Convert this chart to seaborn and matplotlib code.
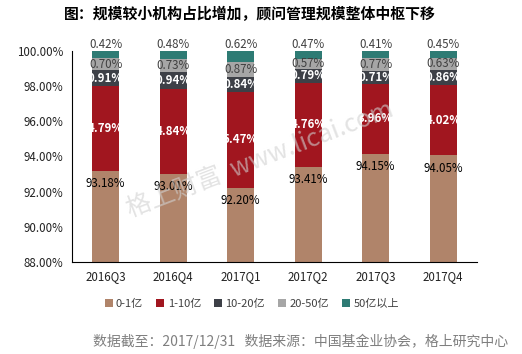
import matplotlib
matplotlib.use("Agg")
import matplotlib.pyplot as plt
from matplotlib.patches import Patch
import seaborn as sns
import pandas as pd
import numpy as np

quarters = ["2016Q3", "2016Q4", "2017Q1", "2017Q2", "2017Q3", "2017Q4"]
s_0_1 = [93.18, 93.01, 92.20, 93.41, 94.15, 94.05]
s_1_10 = [4.79, 4.84, 5.47, 4.76, 3.96, 4.02]
s_10_20 = [0.91, 0.94, 0.84, 0.79, 0.71, 0.86]
s_20_50 = [0.70, 0.73, 0.87, 0.57, 0.77, 0.63]
s_50p = [0.42, 0.48, 0.62, 0.47, 0.41, 0.45]
series_names = ["0-1亿", "1-10亿", "10-20亿", "20-50亿", "50亿以上"]
colors = ["#B0846A", "#A1161F", "#3D4047", "#A6A6A6", "#2E7B74"]
label_colors = ["#000000", "#FFFFFF", "#FFFFFF", "#404040", "#404040"]

sns.set_theme(style="white")
plt.rcParams['font.family'] = ['Noto Sans CJK SC', 'DejaVu Sans']

series = [s_0_1, s_1_10, s_10_20, s_20_50, s_50p]
cum = np.cumsum(np.array(series), axis=0)

fig = plt.figure(figsize=(5.22, 3.54), dpi=100)
ax = fig.add_axes([72/522, 1-262/354, (477-72)/522, (262-50.7)/354])

# overlay cumulative bars, tallest first
for i in range(len(series)-1, -1, -1):
    d = pd.DataFrame({"quarter": quarters, "v": cum[i]})
    sns.barplot(data=d, x="quarter", y="v", color=colors[i], width=0.4,
                saturation=1, ax=ax, errorbar=None, linewidth=0)

ax.set_ylim(88, 100)
ax.set_xlim(-0.5, 5.5)
ax.set_yticks(np.arange(88, 100.01, 2))
ax.set_yticklabels([f"{v:.2f}%" for v in np.arange(88, 100.01, 2)], fontsize=8.3, color="#222222")
ax.set_xlabel("")
ax.set_ylabel("")
ax.set_xticks(range(6))
ax.set_xticklabels(quarters, fontsize=8.3, color="#222222")
ax.tick_params(axis='x', length=0, pad=6)
ax.set_xticks(np.arange(-0.5, 6, 1), minor=True)
ax.tick_params(axis='x', which='minor', length=4, color="black", width=0.8, direction='out')
ax.tick_params(axis='y', length=4, color="black", width=0.8, direction='out', pad=2)
for sp in ["top", "right"]:
    ax.spines[sp].set_visible(False)
for sp in ["left", "bottom"]:
    ax.spines[sp].set_color("black")
    ax.spines[sp].set_linewidth(0.8)

# data labels
for j in range(6):
    ax.text(j, cum[0][j] - 0.72, f"{series[0][j]:.2f}%", ha="center", va="center",
            fontsize=8.3, color=label_colors[0], clip_on=False)
    for i in range(1, 4):
        mid = (cum[i-1][j] + cum[i][j]) / 2
        ax.text(j, mid, f"{series[i][j]:.2f}%", ha="center", va="center",
                fontsize=8.3, color=label_colors[i], clip_on=False,
                fontweight="bold" if i in (1, 2) else "normal")
    ax.text(j, cum[4][j] + 0.33, f"{series[4][j]:.2f}%", ha="center", va="center",
            fontsize=8.3, color=label_colors[4], clip_on=False)

# title
fig.text(250/522, 1-14/354, "图：规模较小机构占比增加，顾问管理规模整体中枢下移",
         ha="center", va="center", fontsize=10.7, fontweight="bold", color="black")

# legend
handles = [Patch(facecolor=c, edgecolor="none") for c in colors]
fig.legend(handles, series_names, loc="center", bbox_to_anchor=(252/522, 1-304/354),
           ncol=5, frameon=False, fontsize=8, handlelength=0.7, handleheight=0.7,
           handletextpad=0.3, columnspacing=1.2, labelcolor="#404040")

# footer
fig.text(93/522, 1-341/354, "数据截至：2017/12/31   数据来源：中国基金业协会，格上研究中心",
         ha="left", va="center", fontsize=10, color="#7F7F7F")

# watermark
fig.text(260/522, 1-160/354, "格上财富  www.licai.com", ha="center", va="center",
         rotation=21, fontsize=18, color="#D0D0D0", alpha=0.6)

fig.savefig("out.png", dpi=100)
